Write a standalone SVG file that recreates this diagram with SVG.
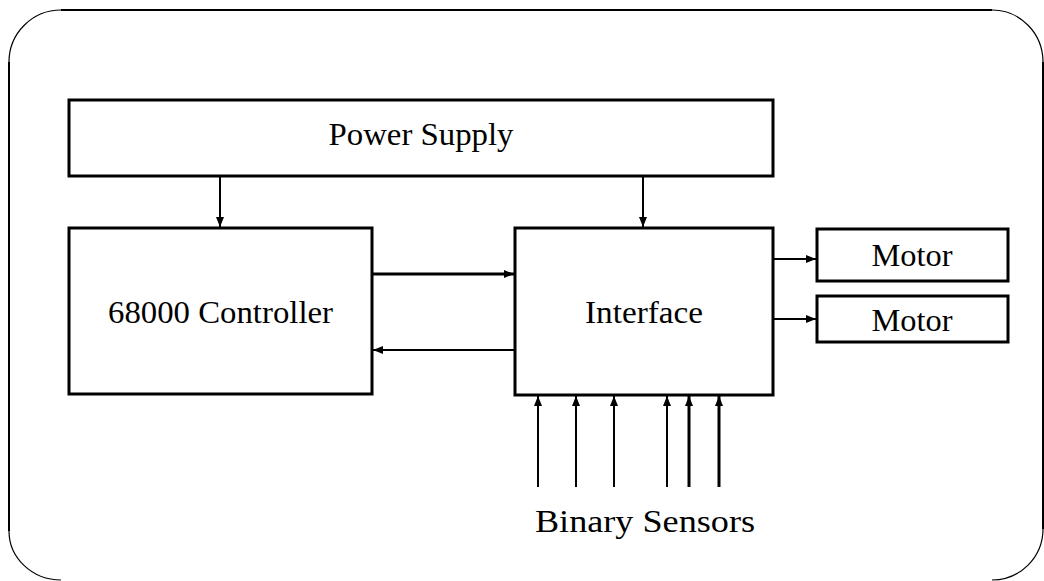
<svg xmlns="http://www.w3.org/2000/svg" width="1044" height="581" viewBox="0 0 1044 581">
<style>
.box{fill:none;stroke:#000;stroke-width:3}
.lbl{font-family:"Liberation Serif","DejaVu Serif","Times New Roman",serif;font-size:31px;fill:#000;text-anchor:middle}
.c{stroke:#000;fill:none}
</style>
<defs>
<marker id="ah" viewBox="0 0 10 10" refX="10" refY="5" markerWidth="10" markerHeight="10" markerUnits="userSpaceOnUse" orient="auto">
<path d="M0,1 L10,5 L0,9 Z" fill="#000"/>
</marker>
</defs>
<rect width="1044" height="581" fill="#fff"/>
<g id="frame">
<path d="M61,10 H992 M1043,62 V529 M9,531 V62" stroke="#000" stroke-width="2" fill="none"/>
<path d="M9,62 A52,52 0 0 1 61,10 M992,10 A51,52 0 0 1 1043,62 M1043,529 A51,51 0 0 1 992,580 M61,580 A52,49 0 0 1 9,531" stroke="#000" stroke-width="1.2" fill="none"/>
</g>
<g id="power-supply">
<rect class="box" x="69" y="100" width="704" height="76"/>
<text class="lbl" x="421" y="145" textLength="185" lengthAdjust="spacingAndGlyphs">Power Supply</text>
</g>
<g id="controller">
<rect class="box" x="69" y="228" width="303" height="166"/>
<text class="lbl" x="220.5" y="323" textLength="225" lengthAdjust="spacingAndGlyphs">68000 Controller</text>
</g>
<g id="interface">
<rect class="box" x="515" y="228" width="258" height="167"/>
<text class="lbl" x="644" y="323" textLength="118" lengthAdjust="spacingAndGlyphs">Interface</text>
</g>
<g id="motor1">
<rect class="box" x="817" y="229" width="191" height="52"/>
<text class="lbl" x="912" y="266" textLength="81" lengthAdjust="spacingAndGlyphs">Motor</text>
</g>
<g id="motor2">
<rect class="box" x="817" y="296" width="191" height="46"/>
<text class="lbl" x="912" y="331" textLength="81" lengthAdjust="spacingAndGlyphs">Motor</text>
</g>
<g id="sensors">
<text class="lbl" x="645" y="532" textLength="220" lengthAdjust="spacingAndGlyphs">Binary Sensors</text>
</g>
<g id="connectors">
<line class="c" x1="220" y1="176" x2="220" y2="227" stroke-width="2" marker-end="url(#ah)"/>
<line class="c" x1="643" y1="176" x2="643" y2="227" stroke-width="2" marker-end="url(#ah)"/>
<line class="c" x1="372" y1="274" x2="514" y2="274" stroke-width="3" marker-end="url(#ah)"/>
<line class="c" x1="515" y1="350" x2="373" y2="350" stroke-width="2" marker-end="url(#ah)"/>
<line class="c" x1="773" y1="259" x2="816" y2="259" stroke-width="2" marker-end="url(#ah)"/>
<line class="c" x1="773" y1="319" x2="816" y2="319" stroke-width="2" marker-end="url(#ah)"/>
<line class="c" x1="538" y1="487" x2="538" y2="396" stroke-width="2" marker-end="url(#ah)"/>
<line class="c" x1="576" y1="487" x2="576" y2="396" stroke-width="2" marker-end="url(#ah)"/>
<line class="c" x1="614" y1="487" x2="614" y2="396" stroke-width="2" marker-end="url(#ah)"/>
<line class="c" x1="667" y1="487" x2="667" y2="396" stroke-width="2" marker-end="url(#ah)"/>
<line class="c" x1="689" y1="487" x2="689" y2="396" stroke-width="3" marker-end="url(#ah)"/>
<line class="c" x1="719" y1="487" x2="719" y2="396" stroke-width="3" marker-end="url(#ah)"/>
</g>
</svg>
